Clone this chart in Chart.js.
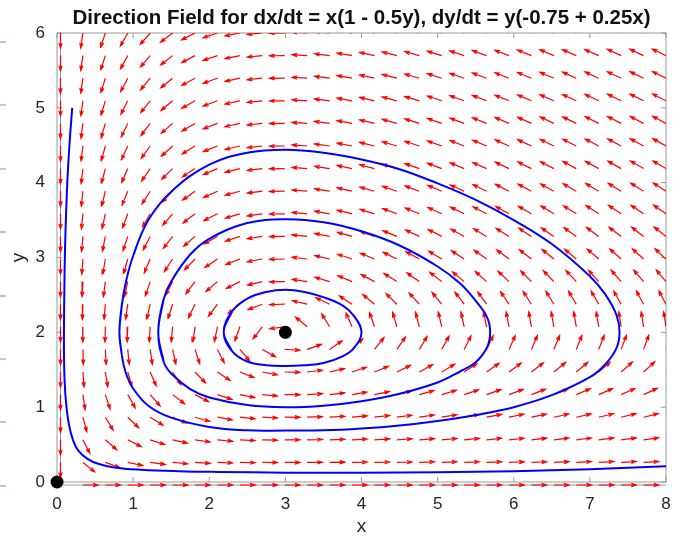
<!DOCTYPE html>
<html>
<head>
<meta charset="utf-8">
<title>Direction field</title>
<script src="https://cdn.jsdelivr.net/npm/chart.js@4.4.1/dist/chart.umd.min.js"></script>
<style>
  html, body { margin: 0; padding: 0; background: #fff; }
</style>
</head>
<body>
<canvas id="field-canvas" width="684" height="538"></canvas>
<script>
// Axis ticks
const xTickValues = [0, 1, 2, 3, 4, 5, 6, 7, 8];
const yTickValues = [0, 1, 2, 3, 4, 5, 6];

// Sample grid for the direction field
const fieldCols = 28;   // x from 0 to 8
const fieldRows = 21;   // y from 0 to 6
const arrowLen = 0.2;   // every arrow is normalized to this length

// Equilibrium points
const eqX = [0, 3];
const eqY = [0, 2];

// Trajectory starting at (0.2, 5)
const outerX = [0.20, 0.17, 0.14, 0.12, 0.105, 0.097, 0.092, 0.092, 0.10, 0.12, 0.155, 0.21, 0.28, 0.40, 0.55, 0.75, 1.1, 1.6, 2.1, 3.0, 4.0, 5.0, 6.0, 7.0, 8.0];
const outerY = [5.00, 4.60, 4.10, 3.60, 3.10, 2.60, 2.10, 1.70, 1.35, 1.05, 0.78, 0.56, 0.42, 0.31, 0.24, 0.195, 0.165, 0.145, 0.135, 0.125, 0.125, 0.13, 0.145, 0.17, 0.21];

// Closed orbits around (3, 2)
const bigX = [0.82, 0.85, 0.90, 1.00, 1.20, 1.50, 2.00, 2.50, 3.00, 3.50, 4.00, 4.50, 5.00, 5.50, 6.00, 6.50, 7.00, 7.20, 7.35, 7.39,
              7.35, 7.20, 7.00, 6.50, 6.00, 5.50, 5.00, 4.50, 4.00, 3.50, 3.00, 2.50, 2.00, 1.50, 1.20, 1.00, 0.90, 0.85];
const bigY = [2.00, 2.35, 2.65, 3.02, 3.50, 3.88, 4.24, 4.40, 4.44, 4.40, 4.31, 4.18, 3.99, 3.77, 3.50, 3.18, 2.75, 2.51, 2.23, 2.00,
              1.79, 1.57, 1.40, 1.16, 1.00, 0.895, 0.816, 0.755, 0.714, 0.69, 0.688, 0.69, 0.736, 0.86, 1.02, 1.25, 1.47, 1.71];

const midX = [1.33, 1.40, 1.50, 1.75, 2.00, 2.50, 3.00, 3.50, 4.00, 4.50, 5.00, 5.30, 5.50, 5.65, 5.69,
              5.65, 5.50, 5.30, 5.00, 4.50, 4.00, 3.50, 3.00, 2.50, 2.00, 1.75, 1.50, 1.40];
const midY = [2.00, 2.44, 2.68, 3.04, 3.25, 3.46, 3.51, 3.47, 3.35, 3.16, 2.88, 2.65, 2.42, 2.20, 2.00,
              1.80, 1.60, 1.48, 1.33, 1.18, 1.08, 1.02, 1.00, 1.03, 1.13, 1.24, 1.45, 1.61];

const smallX = [2.19, 2.30, 2.50, 2.75, 3.00, 3.25, 3.50, 3.75, 3.90, 4.00, 3.90, 3.75, 3.50, 3.25, 3.00, 2.75, 2.50, 2.30];
const smallY = [2.00, 2.28, 2.45, 2.54, 2.57, 2.54, 2.47, 2.36, 2.22, 2.00, 1.79, 1.68, 1.59, 1.56, 1.55, 1.56, 1.61, 1.75];

// Rates from the system in the title
function dxdt(x, y) { return x * (1 - 0.5 * y); }
function dydt(x, y) { return y * (-0.75 + 0.25 * x); }

const fontFamily = '"Liberation Sans", Arial, Helvetica, sans-serif';
const textColor = '#262626';
const frameColor = '#9a9a9a';

function toPoints(xs, ys) {
    return xs.map((x, i) => ({x: x, y: ys[i]}));
}

// wrap a closed orbit so the spline has neighbours at the seam
function closedLoop(xs, ys) {
    const pts = toPoints(xs, ys);
    return [pts[pts.length - 1], ...pts, pts[0], pts[1]];
}

// Build quiver arrows as line pieces separated by gaps
function fieldArrows() {
    const gap = {x: NaN, y: NaN};
    const a = 0.33, b = 0.33;   // head size, quiver style
    const pts = [];
    for (let i = 0; i < fieldCols; i++) {
        const x = 8 * i / (fieldCols - 1);
        for (let j = 0; j < fieldRows; j++) {
            const y = 6 * j / (fieldRows - 1);
            const u = dxdt(x, y), v = dydt(x, y);
            const m = Math.hypot(u, v);
            if (m === 0) continue;
            const du = arrowLen * u / m, dv = arrowLen * v / m;
            const tx = x + du, ty = y + dv;
            pts.push({x: x, y: y}, {x: tx, y: ty}, gap);
            pts.push({x: tx - a * (du + b * dv), y: ty - a * (dv - b * du)},
                     {x: tx, y: ty},
                     {x: tx - a * (du - b * dv), y: ty - a * (dv + b * du)}, gap);
        }
    }
    return pts;
}

// Box, inward ticks and the little ruler marks on the far left
const axesFrame = {
    id: 'axesFrame',
    beforeDraw(chart) {
        const ctx = chart.ctx;
        ctx.save();
        ctx.fillStyle = '#a8cbee';
        for (let k = 0; k < 8; k++) {
            ctx.fillRect(0, Math.round(41 + k * 63.4), 6, 2);
        }
        ctx.restore();
    },
    beforeDatasetsDraw(chart) {
        const {ctx, chartArea: area, scales} = chart;
        const tick = 5;
        // the field sits on its own slightly larger axes box
        const fLeft = scales.xf.getPixelForValue(0);
        const fBottom = scales.yf.getPixelForValue(0);
        ctx.save();
        ctx.strokeStyle = frameColor;
        ctx.lineWidth = 1;
        ctx.strokeRect(area.left, area.top, area.right - area.left, area.bottom - area.top);
        ctx.beginPath();
        ctx.moveTo(fLeft, area.top);
        ctx.lineTo(fLeft, fBottom);
        ctx.lineTo(area.right, fBottom);
        for (const v of xTickValues) {
            const px = scales.x.getPixelForValue(v);
            ctx.moveTo(px, area.bottom); ctx.lineTo(px, area.bottom - tick);
            ctx.moveTo(px, area.top); ctx.lineTo(px, area.top + tick);
        }
        for (const v of yTickValues) {
            const py = scales.y.getPixelForValue(v);
            ctx.moveTo(area.left, py); ctx.lineTo(area.left + tick, py);
            ctx.moveTo(area.right, py); ctx.lineTo(area.right - tick, py);
        }
        ctx.stroke();
        ctx.restore();
    }
};

const orbitStyle = {
    borderColor: 'rgb(0, 0, 255)',
    borderWidth: 2,
    pointRadius: 0,
    tension: 0.4,
    fill: false,
    order: 1
};

const tickFont = {family: fontFamily, size: 17};
const labelFont = {family: fontFamily, size: 19};

const canvas = document.getElementById('field-canvas');
const chart = new Chart(canvas.getContext('2d'), {
    type: 'line',
    data: {
        datasets: [
            {
                label: 'Equilibria',
                data: toPoints(eqX, eqY),
                showLine: false,
                pointRadius: 6.5,
                pointBorderWidth: 0,
                pointBackgroundColor: '#000',
                pointBorderColor: '#000',
                clip: false,
                order: 0
            },
            Object.assign({label: 'Trajectory', data: toPoints(outerX, outerY)}, orbitStyle),
            Object.assign({label: 'Orbit 1', data: closedLoop(bigX, bigY)}, orbitStyle),
            Object.assign({label: 'Orbit 2', data: closedLoop(midX, midY)}, orbitStyle),
            Object.assign({label: 'Orbit 3', data: closedLoop(smallX, smallY)}, orbitStyle),
            {
                label: 'Direction field',
                data: fieldArrows(),
                xAxisID: 'xf',
                yAxisID: 'yf',
                borderColor: 'rgb(255, 0, 0)',
                borderWidth: 1.2,
                pointRadius: 0,
                tension: 0,
                spanGaps: false,
                clip: {left: 6, bottom: 6, top: 0, right: 0},
                order: 2
            }
        ]
    },
    options: {
        responsive: false,
        animation: false,
        events: [],
        layout: {padding: {left: 0, right: 18, top: 0, bottom: 0}},
        plugins: {
            legend: {display: false},
            tooltip: {enabled: false},
            title: {
                display: true,
                fullSize: false,
                text: 'Direction Field for dx/dt = x(1 - 0.5y), dy/dt = y(-0.75 + 0.25x)',
                color: '#111',
                font: {family: fontFamily, size: 20.5, weight: 'bold'},
                padding: {top: 6.4, bottom: 2}
            }
        },
        scales: {
            x: {
                type: 'linear',
                min: 0,
                max: 8,
                afterFit: function(scale) { scale.height = 56; },
                grid: {display: false, drawTicks: false},
                border: {display: false},
                ticks: {stepSize: 1, padding: 12, color: textColor, font: tickFont},
                title: {display: true, text: 'x', color: textColor, padding: {top: 0, bottom: 0}, font: labelFont}
            },
            y: {
                type: 'linear',
                min: 0,
                max: 6,
                afterFit: function(scale) { scale.width = 57; },
                grid: {display: false, drawTicks: false},
                border: {display: false},
                ticks: {stepSize: 1, padding: 12, color: textColor, font: tickFont},
                title: {display: true, text: 'y', color: textColor, padding: {top: 7, bottom: 0}, font: labelFont}
            },
            // hidden axes for the quiver layer, offset a few pixels left and down
            xf: {type: 'linear', display: false, min: -0.046, max: 8},
            yf: {type: 'linear', display: false, min: 0.04, max: 6}
        }
    },
    plugins: [axesFrame]
});
</script>
</body>
</html>
